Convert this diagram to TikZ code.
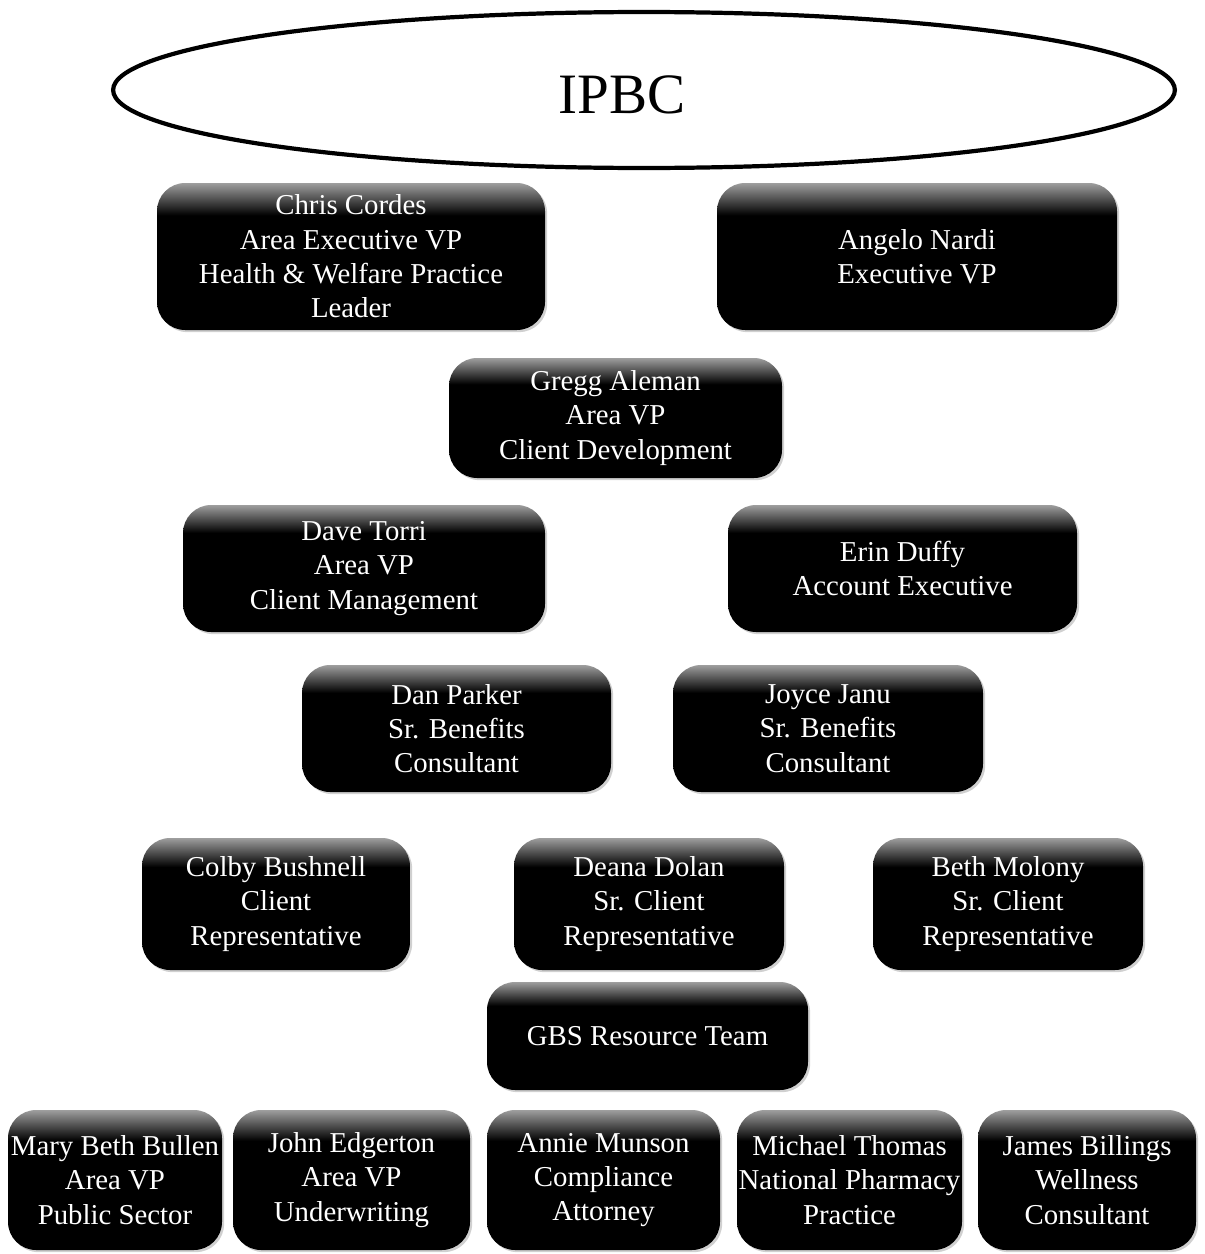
\documentclass[tikz,border=0pt]{standalone}
\usepackage{fontspec}
\setmainfont{Liberation Serif}
\usetikzlibrary{shapes.geometric,shadows}
\pgfdeclareverticalshading{orggloss}{100bp}{color(0bp)=(black); color(64bp)=(black); color(75bp)=(black!38); color(100bp)=(black!38)}
\newcommand{\orgbox}[6]{%
  \node[orgnode, minimum width={(#4-#2)*0.02cm}, minimum height={(#5-#3)*0.02cm}]
    (#1) at ({(#2+#4)/2},{(#3+#5)/2}) {#6};}
\tikzset{
  orgnode/.style={rounded corners=16pt, shading=orggloss, text=white, align=center,
    inner sep=0pt, font=\fontsize{16.4}{19.5}\selectfont,
    drop shadow={shadow xshift=1.2pt, shadow yshift=-1.2pt, fill=gray!60, opacity=0.6}},
  orgring/.style={ellipse, draw=black, line width=2.4pt, inner sep=0pt}
}
\begin{document}
\begin{tikzpicture}[x=0.02cm, y=-0.02cm]
\useasboundingbox[fill=white] (0,0) rectangle (1204,1254);
\node[orgring, minimum width=21.24cm, minimum height=3.12cm] (ipbc) at (644,90) {};
\node[anchor=base, font=\fontsize{32.5}{38}\selectfont, inner sep=0pt] (ipbct) at (622,113) {IPBC};

\orgbox{chris}{157}{183}{545}{330}{Chris Cordes\\Area Executive VP\\Health \& Welfare Practice\\Leader}
\orgbox{angelo}{717}{183}{1117}{330}{Angelo Nardi\\Executive VP}
\orgbox{gregg}{449}{358}{782}{478}{Gregg Aleman\\Area VP\\Client Development}
\orgbox{dave}{183}{505}{545}{632}{Dave Torri\\Area VP\\Client Management}
\orgbox{erin}{728}{505}{1077}{632}{Erin Duffy\\Account Executive}
\orgbox{dan}{302}{665}{611}{792}{Dan Parker\\Sr. Benefits\\Consultant}
\orgbox{joyce}{673}{665}{983}{792}{Joyce Janu\\Sr. Benefits\\Consultant}
\orgbox{colby}{142}{838}{410}{970}{Colby Bushnell\\Client\\Representative}
\orgbox{deana}{514}{838}{784}{970}{Deana Dolan\\Sr. Client\\Representative}
\orgbox{beth}{873}{838}{1143}{970}{Beth Molony\\Sr. Client\\Representative}
\orgbox{gbs}{487}{982}{808}{1090}{GBS Resource Team}
\orgbox{mary}{8}{1110}{222}{1250}{Mary Beth Bullen\\Area VP\\Public Sector}
\orgbox{john}{233}{1110}{470}{1250}{John Edgerton\\Area VP\\Underwriting}
\orgbox{annie}{487}{1110}{720}{1250}{Annie Munson\\Compliance\\Attorney}
\orgbox{michael}{737}{1110}{962}{1250}{Michael Thomas\\National Pharmacy\\Practice}
\orgbox{james}{978}{1110}{1196}{1250}{James Billings\\Wellness\\Consultant}
\end{tikzpicture}
\end{document}
